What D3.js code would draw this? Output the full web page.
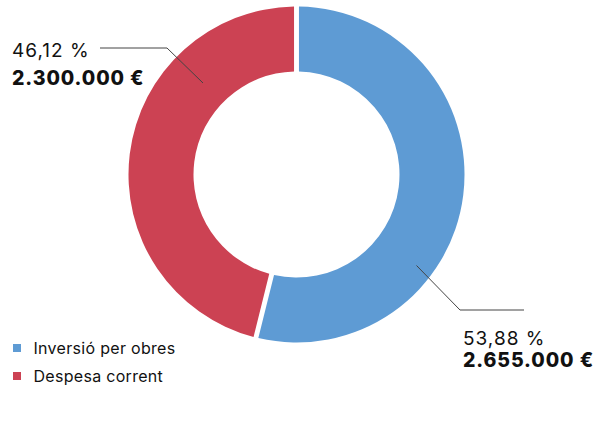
<!DOCTYPE html>
<html><head><meta charset="utf-8">
<script src="https://cdn.jsdelivr.net/npm/d3@7"></script>
<style>body{margin:0;background:#fff}svg{display:block}text{font-family:Inter,"Liberation Sans",sans-serif}</style>
</head><body><svg id="c" width="600" height="421"></svg>
<script>
const categories = ["Inversió per obres", "Despesa corrent"];
const percents = [53.88, 46.12];
const amounts = ["2.655.000 €", "2.300.000 €"];
const percentLabels = ["53,88 %", "46,12 %"];
const colors = ["#5e9bd4", "#cc4253"];

const svg = d3.select("#c");
const cx = 296.5, cy = 174.5, rOut = 168, rIn = 103;
const pie = d3.pie().sort(null).value(d => d)(percents);
const arc = d3.arc().innerRadius(rIn).outerRadius(rOut).padAngle(0.025);
const g = svg.append("g").attr("transform", `translate(${cx},${cy})`);
g.selectAll("path").data(pie).join("path").attr("d", arc).attr("fill", (d,i)=>colors[i]);

// leader lines
const ann = [
  {pts:[[416.5,265.5],[460,310],[524,310]], tx:463, ty1:345, ty2:367},
  {pts:[[203,83],[167,48],[100,48]], tx:12, ty1:57, ty2:85}
];
ann.forEach((a,i)=>{
  svg.append("polyline").attr("points", a.pts.map(p=>p.join(",")).join(" "))
    .attr("fill","none").attr("stroke","#444").attr("stroke-width",1);
  svg.append("text").attr("x",a.tx).attr("y",a.ty1).attr("font-size",19).attr("letter-spacing",1).attr("fill","#111").text(percentLabels[i]);
  svg.append("text").attr("x",a.tx).attr("y",a.ty2).attr("font-size",19.5).attr("letter-spacing",0.9).attr("font-weight",800).attr("fill","#111").text(amounts[i]);
});

// legend
const leg = svg.append("g");
categories.forEach((c,i)=>{
  const y = 344 + i*28;
  leg.append("rect").attr("x",13).attr("y",y).attr("width",8).attr("height",8).attr("fill",colors[i]);
  leg.append("text").attr("x",33.5).attr("y",y+9.5).attr("font-size",16).attr("letter-spacing",0.3).attr("fill","#111").text(c);
});
</script></body></html>
